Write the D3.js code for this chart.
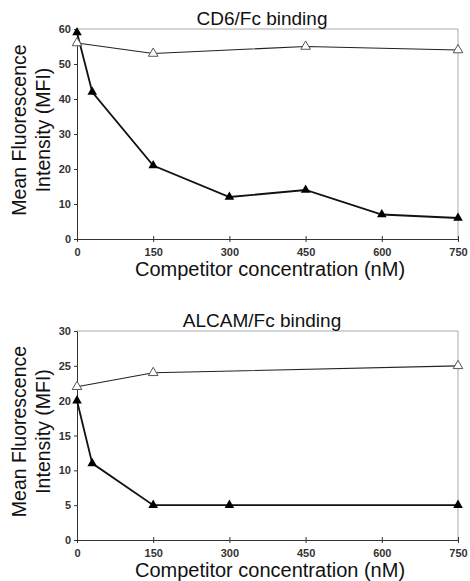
<!DOCTYPE html>
<html>
<head>
<meta charset="utf-8">
<script src="https://cdn.jsdelivr.net/npm/d3@7"></script>
<style>
  body { margin: 0; background: #fff; }
  text { font-family: "Liberation Sans", Arial, sans-serif; }
</style>
</head>
<body>
<div class="my_div"></div>
<script>
// Data
var xTicks = [0, 150, 300, 450, 600, 750];

var cd6Open = [[0, 56], [150, 53], [450, 55], [750, 54]];
var cd6Filled = [[0, 59], [30, 42], [150, 21], [300, 12], [450, 14], [600, 7], [750, 6]];
var cd6Ticks = [0, 10, 20, 30, 40, 50, 60];

var alcamOpen = [[0, 22], [150, 24], [750, 25]];
var alcamFilled = [[0, 20], [30, 11], [150, 5], [300, 5], [750, 5]];
var alcamTicks = [0, 5, 10, 15, 20, 25, 30];

var width = 470, height = 581;

var svg = d3.select(".my_div")
    .append("svg")
    .attr("width", width)
    .attr("height", height);

var tri = d3.symbol().type(d3.symbolTriangle).size(40);

function panel(top, bottom, ymax, yTicks, openData, filledData, title) {
    var left = 77, right = 458;

    var xScale = d3.scaleLinear().domain([0, 750]).range([left, right]);
    var yScale = d3.scaleLinear().domain([0, ymax]).range([bottom, top]);

    var g = svg.append("g");

    // frame: top and right are grey
    g.append("path")
        .attr("d", "M" + left + "," + top + "H" + right + "V" + bottom)
        .attr("stroke", "#aaa")
        .attr("fill", "none");

    var xAxis = g.append("g")
        .attr("transform", "translate(0," + bottom + ")")
        .call(d3.axisBottom(xScale).tickValues(xTicks).tickSize(3).tickSizeOuter(0).tickPadding(6));
    xAxis.select(".domain").attr("stroke", "#333");
    xAxis.selectAll(".tick line").attr("stroke", "#333").attr("y1", -3);
    xAxis.selectAll("text")
        .attr("font-size", 11)
        .attr("font-weight", "bold")
        .attr("fill", "#333")
        .attr("font-family", "Liberation Sans, Arial, sans-serif");

    var yAxis = g.append("g")
        .attr("transform", "translate(" + left + ",0)")
        .call(d3.axisLeft(yScale).tickValues(yTicks).tickSize(3).tickSizeOuter(0).tickPadding(3));
    yAxis.select(".domain").attr("stroke", "#333");
    yAxis.selectAll(".tick line").attr("stroke", "#333");
    yAxis.selectAll("text")
        .attr("font-size", 11)
        .attr("font-weight", "bold")
        .attr("fill", "#333")
        .attr("font-family", "Liberation Sans, Arial, sans-serif");

    var line = d3.line()
        .x((d) => { return xScale(d[0]); })
        .y((d) => { return yScale(d[1]); });

    g.append("path")
        .datum(openData)
        .attr("d", line)
        .attr("stroke", "#222")
        .attr("stroke-width", 1.1)
        .attr("fill", "none");

    g.append("path")
        .datum(filledData)
        .attr("d", line)
        .attr("stroke", "#111")
        .attr("stroke-width", 1.8)
        .attr("fill", "none");

    g.selectAll(".open")
        .data(openData)
        .enter()
        .append("path")
        .attr("d", tri)
        .attr("transform", (d) => { return "translate(" + xScale(d[0]) + "," + yScale(d[1]) + ")"; })
        .attr("fill", "#fff")
        .attr("stroke", "#555");

    g.selectAll(".filled")
        .data(filledData)
        .enter()
        .append("path")
        .attr("d", tri)
        .attr("transform", (d) => { return "translate(" + xScale(d[0]) + "," + yScale(d[1]) + ")"; })
        .attr("fill", "#000");

    // title
    g.append("text")
        .text(title)
        .attr("x", 262)
        .attr("y", top - 4)
        .attr("text-anchor", "middle")
        .attr("font-size", 19)
        .attr("fill", "#111");

    // x label
    g.append("text")
        .text("Competitor concentration (nM)")
        .attr("x", 270)
        .attr("y", bottom + 37)
        .attr("text-anchor", "middle")
        .attr("font-size", 20)
        .attr("fill", "#111");

    // y label, two lines
    var midY = (top + bottom) / 2 - 4;
    g.append("text")
        .text("Mean Fluorescence")
        .attr("transform", "translate(26," + midY + ") rotate(-90)")
        .attr("text-anchor", "middle")
        .attr("font-size", 19.5)
        .attr("fill", "#111");
    g.append("text")
        .text("Intensity (MFI)")
        .attr("transform", "translate(50," + midY + ") rotate(-90)")
        .attr("text-anchor", "middle")
        .attr("font-size", 19.5)
        .attr("fill", "#111");
}

panel(29, 239, 60, cd6Ticks, cd6Open, cd6Filled, "CD6/Fc binding");
panel(331, 540, 30, alcamTicks, alcamOpen, alcamFilled, "ALCAM/Fc binding");
</script>
</body>
</html>
